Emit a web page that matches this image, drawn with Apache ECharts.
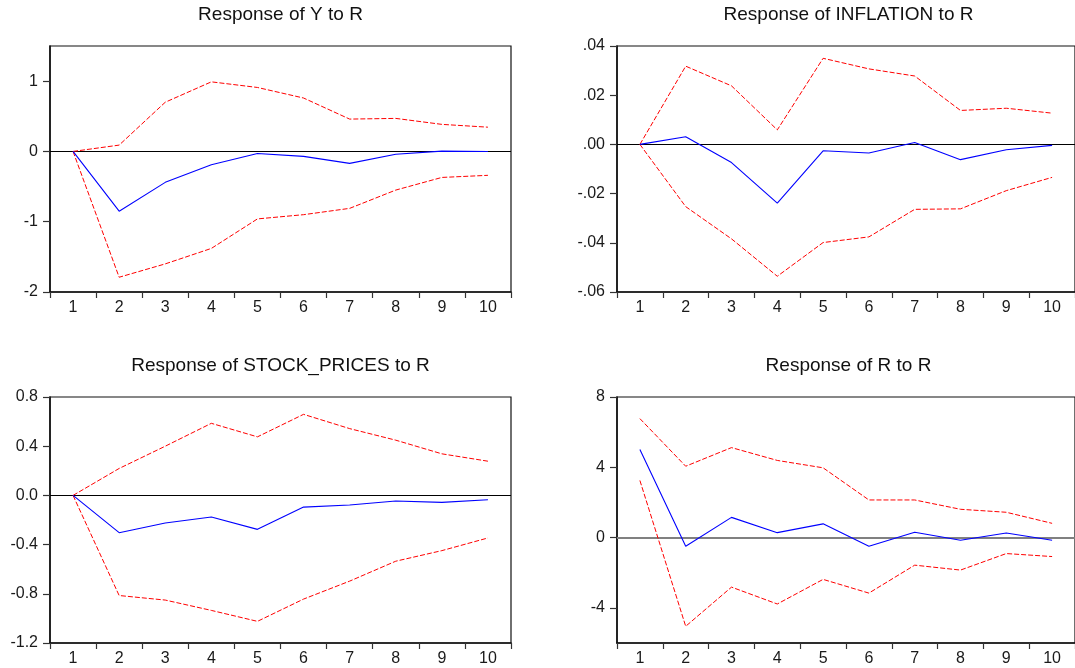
<!DOCTYPE html>
<html>
<head>
<meta charset="utf-8">
<script src="https://cdn.jsdelivr.net/npm/echarts@6/dist/echarts.min.js"></script>
<style>
html,body{margin:0;padding:0;background:#fff;}
#chart{width:1075px;height:668px;}
</style>
</head>
<body>
<div id="chart"></div>
<script>
// ---- data ----
const periods = ['1','2','3','4','5','6','7','8','9','10'];

const titles = ['Response of Y to R', 'Response of INFLATION to R', 'Response of STOCK_PRICES to R', 'Response of R to R'];

const yResp  = [0, -0.85, -0.44, -0.19, -0.03, -0.07, -0.17, -0.04, 0.005, 0];
const yUpper = [0, 0.09, 0.70, 0.99, 0.91, 0.76, 0.46, 0.47, 0.385, 0.345];
const yLower = [0, -1.79, -1.60, -1.38, -0.96, -0.90, -0.81, -0.55, -0.37, -0.34];

const infResp  = [0, 0.0031, -0.0074, -0.0239, -0.0026, -0.0035, 0.0008, -0.0062, -0.0022, -0.0004];
const infUpper = [0, 0.0318, 0.0238, 0.0059, 0.0350, 0.0307, 0.0278, 0.0138, 0.0147, 0.0127];
const infLower = [0, -0.0253, -0.0384, -0.0536, -0.0399, -0.0376, -0.0264, -0.0262, -0.0188, -0.0134];

const spResp  = [0, -0.303, -0.224, -0.176, -0.276, -0.095, -0.078, -0.046, -0.057, -0.035];
const spUpper = [0, 0.219, 0.40, 0.586, 0.476, 0.659, 0.543, 0.449, 0.338, 0.278];
const spLower = [0, -0.814, -0.851, -0.935, -1.024, -0.843, -0.697, -0.535, -0.449, -0.346];

const rResp  = [5.01, -0.49, 1.15, 0.28, 0.78, -0.49, 0.30, -0.15, 0.26, -0.15];
const rUpper = [6.77, 4.06, 5.12, 4.39, 3.97, 2.14, 2.14, 1.61, 1.44, 0.81];
const rLower = [3.25, -5.05, -2.82, -3.78, -2.38, -3.16, -1.57, -1.85, -0.91, -1.08];

const yTicks1 = [-2, -1, 0, 1];           const yLabels1 = ['-2', '-1', '0', '1'];
const yTicks2 = [-0.06, -0.04, -0.02, 0, 0.02, 0.04]; const yLabels2 = ['-.06', '-.04', '-.02', '.00', '.02', '.04'];
const yTicks3 = [-1.2, -0.8, -0.4, 0, 0.4, 0.8]; const yLabels3 = ['-1.2', '-0.8', '-0.4', '0.0', '0.4', '0.8'];
const yTicks4 = [-4, 0, 4, 8];            const yLabels4 = ['-4', '0', '4', '8'];

const yRanges = [[-2, 1.5], [-0.06, 0.04], [-1.2, 0.8], [-6, 8]];

// ---- layout ----
const grids = [
  {left: 50, top: 46, width: 461, height: 246},
  {left: 617, top: 46, width: 463, height: 246},
  {left: 50, top: 397, width: 461, height: 246},
  {left: 617, top: 397, width: 463, height: 246}
];
const titleY = [15, 366];

const panels = [
  {resp: yResp, up: yUpper, lo: yLower, ticks: yTicks1, labels: yLabels1},
  {resp: infResp, up: infUpper, lo: infLower, ticks: yTicks2, labels: yLabels2},
  {resp: spResp, up: spUpper, lo: spLower, ticks: yTicks3, labels: yLabels3},
  {resp: rResp, up: rUpper, lo: rLower, ticks: yTicks4, labels: yLabels4}
];

const FONT = '"Liberation Sans", Arial, sans-serif';
const chart = echarts.init(document.getElementById('chart'));

const gridOpts = grids.map(g => Object.assign({show: true, borderColor: '#111', borderWidth: 1.2, backgroundColor: 'transparent'}, g));

const xAxes = grids.map((g, i) => ({
  type: 'category', gridIndex: i, data: periods, boundaryGap: true,
  axisLine: {show: true, onZero: false, lineStyle: {color: '#111', width: 1.6}},
  axisTick: {show: true, inside: false, length: 6, alignWithLabel: false, lineStyle: {color: '#333', width: 1.2}},
  axisLabel: {show: true, margin: 8, color: '#1a1a1a', fontSize: 16, fontFamily: FONT, interval: 0},
  splitLine: {show: false}
}));

const yAxes = panels.map((p, i) => {
  const fmt = v => {
    const k = p.ticks.findIndex(t => Math.abs(t - v) < 1e-9);
    return k >= 0 ? p.labels[k] : '';
  };
  return {
    type: 'value', gridIndex: i, min: yRanges[i][0], max: yRanges[i][1],
    axisLine: {show: true, onZero: false, lineStyle: {color: '#111', width: 1.6}},
    axisTick: {show: true, inside: false, length: 7, customValues: p.ticks, lineStyle: {color: '#333', width: 1.2}},
    axisLabel: {show: true, margin: 12, color: '#1a1a1a', fontSize: 16, fontFamily: FONT, customValues: p.ticks, formatter: fmt},
    splitLine: {show: false}
  };
});

const series = [];
panels.forEach((p, i) => {
  const zeroStyle = i === 3 ? {color: '#808080', width: 2, type: 'solid'} : {color: '#000', width: 1, type: 'solid'};
  series.push({
    type: 'line', xAxisIndex: i, yAxisIndex: i, data: p.up, symbol: 'none', silent: true,
    lineStyle: {color: '#ff0000', width: 1, type: [5, 2]}, z: 3
  });
  series.push({
    type: 'line', xAxisIndex: i, yAxisIndex: i, data: p.lo, symbol: 'none', silent: true,
    lineStyle: {color: '#ff0000', width: 1, type: [5, 2]}, z: 3
  });
  series.push({
    type: 'line', xAxisIndex: i, yAxisIndex: i, data: p.resp, symbol: 'none', silent: true,
    lineStyle: {color: '#0000ff', width: 1.1}, z: 4,
    markLine: {silent: true, symbol: 'none', label: {show: false}, lineStyle: zeroStyle, data: [{yAxis: 0}], animation: false, z: 2}
  });
});

const graphics = titles.map((t, i) => ({
  type: 'text',
  x: grids[i].left + (i % 2 === 1 ? 463 : 461) / 2,
  y: titleY[Math.floor(i / 2)],
  style: {text: t, fill: '#111', font: '19px ' + FONT, textAlign: 'center', textVerticalAlign: 'middle'}
}));

chart.setOption({
  animation: false,
  backgroundColor: '#fff',
  grid: gridOpts,
  xAxis: xAxes,
  yAxis: yAxes,
  series: series,
  graphic: graphics
});
</script>
</body>
</html>
